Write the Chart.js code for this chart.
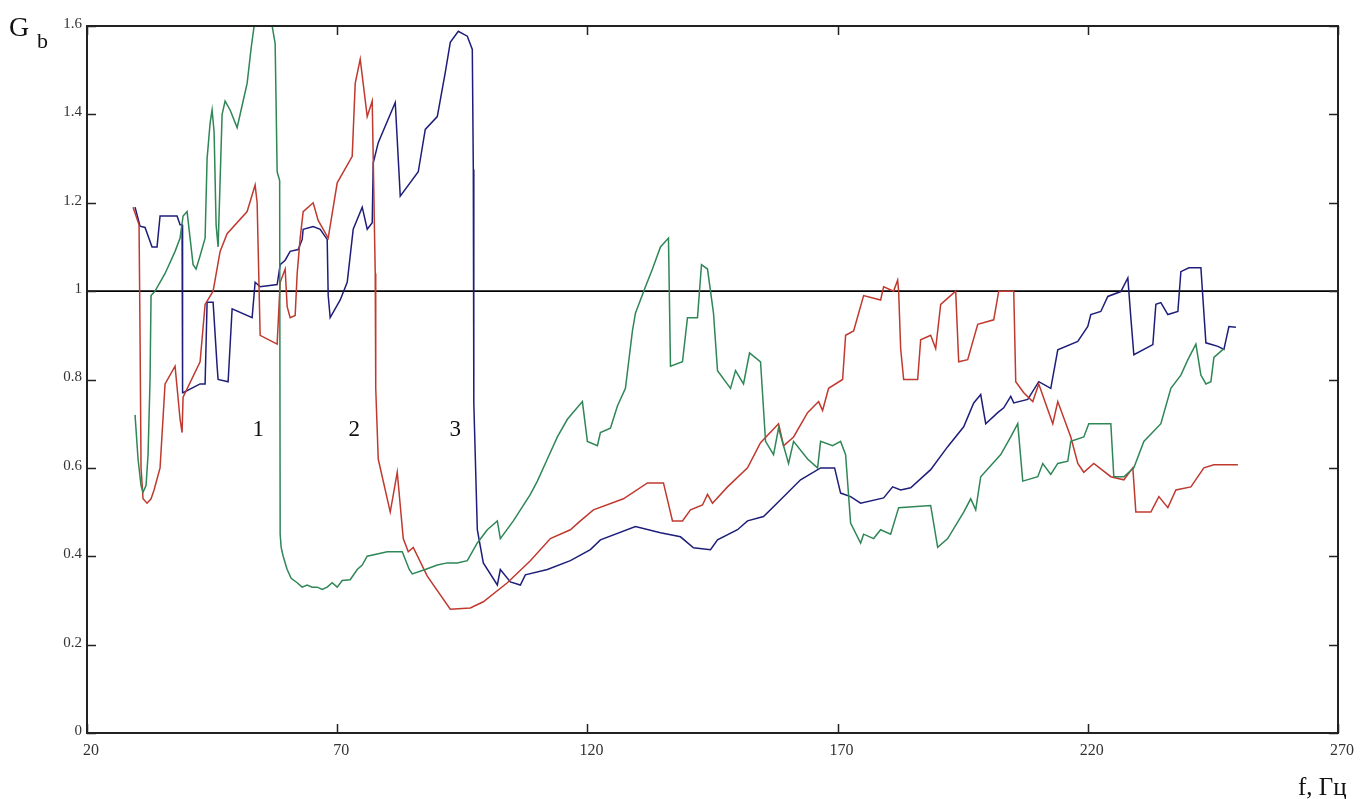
<!DOCTYPE html>
<html>
<head>
<meta charset="utf-8">
<script src="https://cdn.jsdelivr.net/npm/chart.js@4/dist/chart.umd.min.js"></script>
<style>
  html, body { margin: 0; padding: 0; background: #fff; }
  #wrap { position: relative; width: 1364px; height: 799px; }
</style>
</head>
<body>
<div id="wrap"><canvas id="myChart" width="1364" height="799"></canvas></div>
<script>
// ticks
const xTicks = ['20', '70', '120', '170', '220', '270'];
const yTicks = ['0', '0.2', '0.4', '0.6', '0.8', '1', '1.2', '1.4', '1.6'];

// curve 1 (green)
const f1 = [29.6, 30.2, 30.8, 31.2, 31.8, 32.2, 32.6, 32.8, 33.6, 35.6, 37.6, 38.6, 39.2, 40, 40.6, 41.2, 41.8, 42.6, 43.6, 44, 44.6, 45, 45.4, 45.8, 46.2, 46.6, 47, 47.6, 48.6, 50, 51, 52, 52.8, 53.4, 54.2, 56.2, 57, 57.6, 58, 58.5, 58.6, 58.8, 59.2, 60, 60.8, 62, 63, 64, 65, 66, 67, 68, 69, 70, 71, 72.6, 74, 75, 76, 78, 80, 83, 84.4, 85, 87.6, 90, 92, 94, 96, 98, 100, 102, 102.6, 105.2, 108.6, 110, 112, 114, 116, 119, 120, 122, 122.6, 124.6, 126, 127.6, 129, 129.6, 131.6, 133, 134.6, 136.2, 136.6, 139, 140, 142, 142.8, 144, 145.2, 146, 148.6, 149.6, 151.2, 152.4, 154.6, 155.6, 157.2, 158.2, 160.2, 161.2, 164, 166, 166.6, 169, 170.6, 171.6, 172.6, 174.6, 175.2, 177.2, 178.6, 180.6, 182.2, 188.6, 190, 192, 195.2, 196.6, 197.6, 198.6, 202.6, 204.6, 206, 207, 210, 211, 212.6, 214, 216, 216.6, 219.2, 220.2, 224.6, 225.2, 227.2, 229.2, 231.2, 234.6, 236.6, 238.6, 240, 241.6, 242.6, 243.6, 244.6, 245.2, 247.2];
const g1 = [0.72, 0.62, 0.56, 0.545, 0.56, 0.63, 0.8, 0.99, 1.0, 1.04, 1.09, 1.12, 1.17, 1.18, 1.12, 1.06, 1.05, 1.08, 1.12, 1.3, 1.38, 1.41, 1.36, 1.15, 1.1, 1.25, 1.4, 1.43, 1.41, 1.37, 1.42, 1.47, 1.55, 1.6, 1.66, 1.66, 1.6, 1.56, 1.27, 1.25, 0.45, 0.42, 0.4, 0.37, 0.35, 0.34, 0.33, 0.335, 0.33, 0.33, 0.325, 0.33, 0.34, 0.33, 0.345, 0.347, 0.37, 0.38, 0.4, 0.405, 0.41, 0.41, 0.37, 0.36, 0.37, 0.38, 0.385, 0.385, 0.39, 0.43, 0.46, 0.48, 0.44, 0.48, 0.54, 0.57, 0.62, 0.67, 0.71, 0.75, 0.66, 0.65, 0.68, 0.69, 0.74, 0.78, 0.91, 0.95, 1.01, 1.05, 1.1, 1.12, 0.83, 0.84, 0.94, 0.94, 1.06, 1.05, 0.95, 0.82, 0.78, 0.82, 0.79, 0.86, 0.84, 0.66, 0.63, 0.69, 0.61, 0.66, 0.62, 0.6, 0.66, 0.65, 0.66, 0.63, 0.475, 0.43, 0.45, 0.44, 0.46, 0.45, 0.51, 0.515, 0.42, 0.44, 0.5, 0.53, 0.505, 0.58, 0.63, 0.67, 0.7, 0.57, 0.58, 0.61, 0.585, 0.61, 0.615, 0.66, 0.67, 0.7, 0.7, 0.58, 0.58, 0.6, 0.66, 0.7, 0.78, 0.81, 0.845, 0.88, 0.81, 0.79, 0.795, 0.85, 0.87];

// curve 2 (red)
const f2 = [29.2, 30.4, 30.6, 30.8, 31.2, 32, 32.8, 33.4, 34.6, 35.6, 37.6, 38.6, 39, 39.2, 42.6, 43.6, 45.2, 46.6, 48, 52, 53.6, 54, 54.6, 58, 58.6, 59.6, 60, 60.6, 61.6, 62, 62.6, 63.2, 65.2, 66.2, 68.2, 70, 73, 73.6, 74.6, 76, 77, 77.6, 77.7, 78.2, 80.6, 82, 83.2, 84.2, 85.2, 88, 92.6, 96.6, 99.2, 104, 108.6, 112.6, 116.6, 118.6, 121.2, 127.2, 132, 135.2, 137, 139, 140.6, 143, 144, 145, 148, 152, 154.6, 158.2, 159.2, 161.2, 164, 166.2, 167, 168.2, 171, 171.6, 173.2, 175.2, 178.6, 179.2, 181.2, 182, 182.2, 182.6, 183.2, 186, 186.6, 188.6, 189.6, 190.6, 193.6, 194.2, 196, 198, 201.2, 202.2, 205.2, 205.6, 207.2, 209, 210.2, 213, 214, 216.6, 218, 219.2, 221.2, 224.6, 227.2, 229, 229.6, 232.6, 234.2, 236, 237.6, 240.6, 243.2, 245.2, 250];
const g2 = [1.19, 1.15, 0.9, 0.6, 0.53, 0.52, 0.53, 0.55, 0.6, 0.79, 0.83, 0.71, 0.68, 0.76, 0.84, 0.97, 1.0, 1.09, 1.13, 1.18, 1.24, 1.2, 0.9, 0.88, 1.02, 1.05, 0.965, 0.94, 0.945, 1.04, 1.12, 1.18, 1.2, 1.16, 1.12, 1.245, 1.305, 1.47, 1.525, 1.395, 1.43, 1.04, 0.78, 0.62, 0.5, 0.59, 0.44, 0.41, 0.42, 0.355, 0.28, 0.283, 0.297, 0.34, 0.39, 0.44, 0.46, 0.48, 0.505, 0.53, 0.566, 0.566, 0.48, 0.48, 0.505, 0.516, 0.54, 0.52, 0.557, 0.6, 0.657, 0.7, 0.65, 0.67, 0.725, 0.75, 0.73, 0.78, 0.8, 0.9, 0.91, 0.99, 0.98, 1.01, 1.0, 1.025, 1.0, 0.87, 0.8, 0.8, 0.89, 0.9, 0.87, 0.97, 1.0, 0.84, 0.845, 0.925, 0.935, 1.0, 1.0, 0.795, 0.77, 0.75, 0.79, 0.7, 0.75, 0.67, 0.61, 0.59, 0.61, 0.58, 0.573, 0.6, 0.5, 0.5, 0.535, 0.51, 0.55, 0.557, 0.6, 0.607, 0.607];

// curve 3 (blue)
const f3 = [29.6, 30.6, 31.6, 33, 34, 34.6, 38, 38.6, 39, 39.1, 39.2, 42.6, 43.6, 44, 45.2, 46, 46.2, 48.2, 49, 53, 53.6, 54.6, 58, 58.6, 59.6, 60.6, 62.2, 63, 63.2, 65.2, 66.6, 68, 68.2, 68.6, 70.6, 72, 73.2, 75, 76, 77, 77.2, 78.2, 81.6, 82.6, 86.2, 87.6, 90, 91.6, 92.6, 94.2, 96, 97, 97.2, 97.3, 98, 99.2, 102, 102.6, 104.6, 106.6, 107.6, 112, 116.6, 120.6, 122.6, 129.6, 134.6, 138.6, 141.2, 144.6, 146, 150, 152, 155.2, 158.6, 162.6, 166.6, 169.4, 170.6, 172.6, 174.6, 179.2, 181, 182.6, 184.6, 188.6, 192, 195.2, 197.2, 198.6, 199.6, 202, 203.2, 204.6, 205.2, 208, 210.2, 212.6, 214, 218, 220, 220.6, 222.6, 224, 226.6, 228, 228.6, 229.2, 233, 233.6, 234.6, 236, 238, 238.6, 240.2, 242.6, 243.6, 246, 247.2, 248.2, 249.6];
const g3 = [1.19, 1.147, 1.144, 1.1, 1.1, 1.17, 1.17, 1.15, 1.15, 0.77, 0.77, 0.79, 0.79, 0.975, 0.975, 0.83, 0.8, 0.795, 0.96, 0.94, 1.02, 1.01, 1.015, 1.06, 1.07, 1.09, 1.094, 1.117, 1.14, 1.146, 1.14, 1.117, 0.99, 0.94, 0.98, 1.02, 1.14, 1.19, 1.14, 1.155, 1.29, 1.336, 1.427, 1.215, 1.27, 1.366, 1.395, 1.495, 1.563, 1.588, 1.577, 1.547, 1.275, 0.747, 0.46, 0.385, 0.335, 0.37, 0.342, 0.335, 0.358, 0.37, 0.39, 0.415, 0.437, 0.467, 0.453, 0.444, 0.419, 0.415, 0.437, 0.46, 0.48, 0.49, 0.528, 0.573, 0.6, 0.6, 0.543, 0.535, 0.52, 0.532, 0.557, 0.55, 0.555, 0.596, 0.648, 0.693, 0.747, 0.766, 0.7, 0.725, 0.736, 0.762, 0.747, 0.755, 0.795, 0.78, 0.867, 0.886, 0.92, 0.947, 0.954, 0.988, 0.999, 1.03, 0.94, 0.856, 0.879, 0.97, 0.974, 0.947, 0.954, 1.044, 1.053, 1.053, 0.883, 0.875, 0.868, 0.92, 0.918];

// reference level G = 1
const levelX = [20, 270];
const levelY = [1, 1];

// curve numbers
const curveNames = ['1', '2', '3'];
const nameX = [54.2, 73.4, 93.6];
const nameY = [0.686, 0.686, 0.686];

function pts(xs, ys) {
    return xs.map((x, i) => ({ x: x, y: ys[i] }));
}

const ctx = document.getElementById('myChart').getContext('2d');

// frame, inward ticks and labels
const extras = {
    id: 'extras',
    afterDraw(chart) {
        const c = chart.ctx;
        const a = chart.chartArea;
        const xs = chart.scales.x, ys = chart.scales.y;
        c.save();
        c.strokeStyle = '#222';
        c.lineWidth = 2;
        c.strokeRect(a.left, a.top, a.right - a.left, a.bottom - a.top);
        c.lineWidth = 1.5;
        c.beginPath();
        xTicks.forEach(t => {
            const px = Math.round(xs.getPixelForValue(+t)) + 0.5;
            c.moveTo(px, a.bottom); c.lineTo(px, a.bottom - 9);
            c.moveTo(px, a.top); c.lineTo(px, a.top + 9);
        });
        yTicks.forEach(t => {
            const py = Math.round(ys.getPixelForValue(+t)) + 0.5;
            c.moveTo(a.left, py); c.lineTo(a.left + 9, py);
            c.moveTo(a.right, py); c.lineTo(a.right - 9, py);
        });
        c.stroke();

        c.fillStyle = '#111';
        c.font = '23px "Liberation Serif", serif';
        c.textAlign = 'center';
        c.textBaseline = 'middle';
        curveNames.forEach((n, i) => {
            c.fillText(n, xs.getPixelForValue(nameX[i]), ys.getPixelForValue(nameY[i]));
        });

        c.textAlign = 'left';
        c.textBaseline = 'alphabetic';
        c.font = '28px "Liberation Serif", serif';
        c.fillText('G', 9, 36);
        c.font = '22px "Liberation Serif", serif';
        c.fillText('b', 37, 48);
        c.font = '25px "Liberation Serif", serif';
        c.fillText('f, Гц', 1298, 795);
        c.restore();
    }
};

const myChart = new Chart(ctx, {
    type: 'line',
    data: {
        datasets: [
            { data: pts(f1, g1), borderColor: '#2f8656', borderWidth: 1.5, pointRadius: 0, tension: 0 },
            { data: pts(f2, g2), borderColor: '#c0392f', borderWidth: 1.5, pointRadius: 0, tension: 0 },
            { data: pts(f3, g3), borderColor: '#1e1e7a', borderWidth: 1.5, pointRadius: 0, tension: 0 },
            { data: pts(levelX, levelY), borderColor: '#000', borderWidth: 1.6, pointRadius: 0 }
        ]
    },
    options: {
        responsive: false,
        animation: false,
        layout: { padding: { top: 26, right: 26, left: 0, bottom: 0 } },
        plugins: { legend: { display: false }, tooltip: { enabled: false } },
        scales: {
            x: {
                type: 'linear', min: 20, max: 270,
                afterBuildTicks: s => { s.ticks = xTicks.map(v => ({ value: +v })); },
                ticks: { color: '#333', font: { size: 16, family: 'Liberation Serif' }, padding: 8, maxRotation: 0,
                         labelOffset: 4, callback: (v, i) => xTicks[i] },
                grid: { display: false, drawTicks: false },
                border: { display: false },
                afterFit: s => { s.height = 66; }
            },
            y: {
                min: 0, max: 1.6,
                afterBuildTicks: s => { s.ticks = yTicks.map(v => ({ value: +v })); },
                ticks: { color: '#333', font: { size: 15, family: 'Liberation Serif' }, padding: 5,
                         labelOffset: -2, callback: (v, i) => yTicks[i] },
                grid: { display: false, drawTicks: false },
                border: { display: false },
                afterFit: s => { s.width = 87; }
            }
        }
    },
    plugins: [extras]
});
</script>
</body>
</html>
